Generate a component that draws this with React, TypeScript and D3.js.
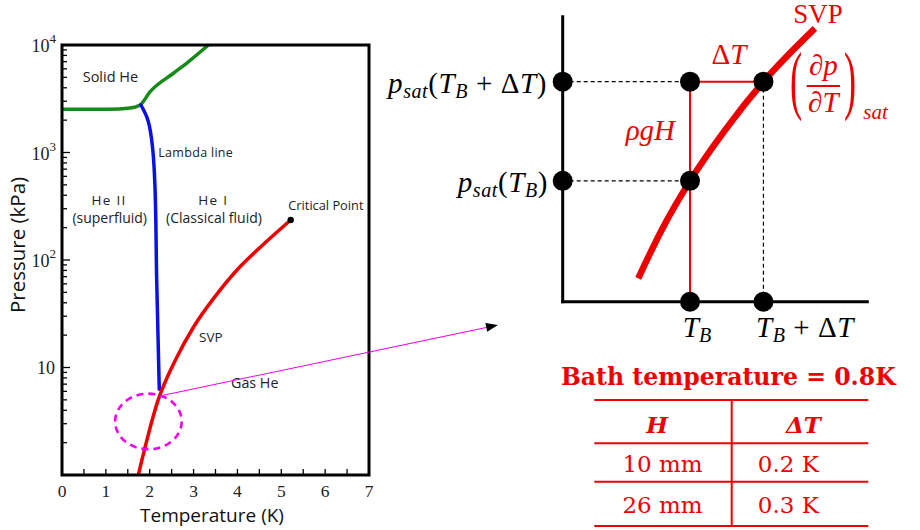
import React from "react";
import * as d3 from "d3";

// ---- He-4 phase diagram (temperature in K, pressure in kPa) ----
const meltT = [0, 0.8, 1.3, 1.55, 1.78, 2.01, 2.54, 2.84, 3.34];
const meltP = [2530, 2530, 2545, 2590, 2767, 3680, 5460, 6760, 10000];

const lambdaT = [1.8, 1.931, 2.045, 2.12, 2.159, 2.218];
const lambdaP = [2767, 2153, 1306, 481, 65.2, 6.27];

const svpT = [1.74, 2.219, 2.387, 2.615, 3.0, 3.5, 4.0, 4.515, 5.215];
const svpP = [1.0, 5.35, 7.9, 12.39, 23.8, 46.3, 81.6, 130.7, 235.6];

const criticalT = 5.215;
const criticalP = 235.6;

// zoom ring around the lambda / SVP junction
const ringT = 1.97;
const ringP = 3.15;
const arrowFromT = 2.31;
const arrowFromP = 5.52;

const tempTicks = [0, 1, 2, 3, 4, 5, 6, 7];
const tempMinorTicks = [0.5, 1, 1.5, 2, 2.5, 3, 3.5, 4, 4.5, 5, 5.5, 6, 6.5];
const pressureDecades = [10, 100, 1000, 10000];
const pressureExponents = ["", "2", "3", "4"];

// ---- schematic of SVP near the bath temperature (arbitrary units 0..100) ----
const sketchSvpT = [24.8, 32.5, 41.8, 53.3, 65.9, 82.8];
const sketchSvpP = [8.2, 25.2, 42.4, 60.2, 77.2, 95.9];
const sketchTB = 41.8;
const sketchTBdT = 65.9;
const sketchPsatTB = 42.4;
const sketchPsatTBdT = 77.2;

// ---- table ----
const bathLabel = "Bath temperature = 0.8K";
const tableHeights = ["10 mm", "26 mm"];
const tableDeltaT = ["0.2 K", "0.3 K"];

const RED = "#ee0000";
const GREEN = "#178a17";
const BLUE = "#0a10e8";
const MAGENTA = "#f000f0";
const SANS = "'Open Sans', 'DejaVu Sans', sans-serif";
const SERIF = "'Liberation Serif', 'Times New Roman', serif";
const WIDE_SERIF = "'DejaVu Serif', serif";

export default function App() {
  const x = d3.scaleLinear().domain([0, 7]).range([62, 369]);
  const y = d3.scaleLog().domain([1, 1e4]).range([475, 45]);

  const lineX = (ts: number[], ps: number[]) =>
    d3
      .line<number>()
      .x((_, i) => x(ts[i]))
      .y((_, i) => y(ps[i]))
      .curve(d3.curveMonotoneX)(ts) || "";
  const lineY = (ts: number[], ps: number[]) =>
    d3
      .line<number>()
      .x((_, i) => x(ts[i]))
      .y((_, i) => y(ps[i]))
      .curve(d3.curveMonotoneY)(ts) || "";

  const minorP: number[] = [];
  [1, 10, 100, 1000].forEach((d) => {
    for (let m = 2; m <= 9; m++) minorP.push(d * m);
  });

  const sx = d3.scaleLinear().domain([0, 100]).range([562.7, 867.3]);
  const sy = d3.scaleLinear().domain([0, 100]).range([301.7, 16.7]);
  const sketchPath =
    d3
      .line<number>()
      .x((_, i) => sx(sketchSvpT[i]))
      .y((_, i) => sy(sketchSvpP[i]))
      .curve(d3.curveMonotoneX)(sketchSvpT) || "";

  // pointer from the ring to the schematic
  const ax0 = x(arrowFromT);
  const ay0 = y(arrowFromP);
  const ax1 = 498;
  const ay1 = 325;
  const ang = Math.atan2(ay1 - ay0, ax1 - ax0);
  const headLen = 12;
  const headHalf = 4.5;
  const bx = ax1 - headLen * Math.cos(ang);
  const by = ay1 - headLen * Math.sin(ang);
  const head = [
    [ax1, ay1],
    [bx + headHalf * Math.sin(ang), by - headHalf * Math.cos(ang)],
    [bx - headHalf * Math.sin(ang), by + headHalf * Math.cos(ang)],
  ]
    .map((p) => p.join(","))
    .join(" ");

  const rowLines = [400, 443.3, 481.7, 526];
  const rowBaselines = [471.7, 513.3];
  const colMid = 731.7;

  const mathSize = 29;
  const subSize = 20;

  return (
    <svg
      width={920}
      height={530}
      style={{ position: "fixed", left: 0, top: 0, background: "#fff" }}
    >
      <rect x={0} y={0} width={920} height={530} fill="#fff" />
      <defs>
        <clipPath id="plotArea">
          <rect x={62} y={45} width={307} height={430} />
        </clipPath>
      </defs>

      {/* ---------- phase diagram ---------- */}
      <g clipPath="url(#plotArea)" fill="none" strokeLinecap="round" strokeLinejoin="round">
        <path d={lineX(meltT, meltP)} stroke={GREEN} strokeWidth={3.5} />
        <path d={lineY(lambdaT, lambdaP)} stroke={BLUE} strokeWidth={3.5} />
        <path d={lineX(svpT, svpP)} stroke={RED} strokeWidth={3.5} />
      </g>
      <circle cx={x(criticalT)} cy={y(criticalP)} r={3.2} fill="#000" />

      {/* ticks */}
      <g stroke="#000" strokeWidth={1.3}>
        {tempMinorTicks.map((t) => (
          <line key={"xt" + t} x1={x(t)} x2={x(t)} y1={475} y2={469} />
        ))}
        {minorP.map((p) => (
          <line key={"ym" + p} x1={62} x2={67} y1={y(p)} y2={y(p)} />
        ))}
        {pressureDecades.map((p) => (
          <line key={"yM" + p} x1={62} x2={70} y1={y(p)} y2={y(p)} />
        ))}
      </g>
      <rect x={62} y={45} width={307} height={430} fill="none" stroke="#000" strokeWidth={3} />

      {/* tick labels */}
      <g fontFamily={SERIF} fill="#222">
        {tempTicks.map((t) => (
          <text key={"xl" + t} x={x(t)} y={497} fontSize={17.5} textAnchor="middle">
            {t}
          </text>
        ))}
        {pressureDecades.map((p, i) =>
          pressureExponents[i] ? (
            <text key={"yl" + p} x={56} y={y(p) + 7} fontSize={18} textAnchor="end">
              10
              <tspan fontSize={13} dy={-9}>
                {pressureExponents[i]}
              </tspan>
            </text>
          ) : (
            <text key={"yl" + p} x={55} y={y(p) + 6} fontSize={18} textAnchor="end">
              10
            </text>
          )
        )}
      </g>

      {/* axis titles */}
      <text x={212} y={521.5} fontFamily={SANS} fontSize={19} textAnchor="middle" fill="#111">
        Temperature (K)
      </text>
      <text
        transform="translate(25,245) rotate(-90)"
        fontFamily={SANS}
        fontSize={20.5}
        textAnchor="middle"
        fill="#111"
      >
        Pressure (kPa)
      </text>

      {/* region labels */}
      <g fontFamily={SANS} fill="#222" style={{ whiteSpace: "pre" }}>
        <text x={82.7} y={81.5} fontSize={14.5}>Solid He</text>
        <text x={158.3} y={157} fontSize={12.5} letterSpacing={0.3}>Lambda line</text>
        <text x={109} y={205} fontSize={13.5} textAnchor="middle" letterSpacing={1.3}>He II</text>
        <text x={109.7} y={223} fontSize={14} textAnchor="middle">(superfluid)</text>
        <text x={213.3} y={205} fontSize={13.5} textAnchor="middle" letterSpacing={1.3}>He I</text>
        <text x={214} y={223} fontSize={14} textAnchor="middle">(Classical fluid)</text>
        <text x={288.3} y={210} fontSize={12.8}>Critical Point</text>
        <text x={199} y={341.7} fontSize={13.5}>SVP</text>
        <text x={231} y={388.3} fontSize={14.3}>Gas He</text>
      </g>

      {/* ring + pointer */}
      <ellipse
        cx={x(ringT)}
        cy={y(ringP)}
        rx={33.3}
        ry={27.8}
        fill="none"
        stroke={MAGENTA}
        strokeWidth={2.6}
        strokeDasharray="7 5"
      />
      <line x1={ax0} y1={ay0} x2={bx} y2={by} stroke={MAGENTA} strokeWidth={1.1} />
      <polygon points={head} fill="#000" />

      {/* ---------- SVP schematic ---------- */}
      <g stroke="#000" strokeWidth={1.2} strokeDasharray="4 3">
        <line x1={sx(0)} x2={sx(sketchTB)} y1={sy(sketchPsatTBdT)} y2={sy(sketchPsatTBdT)} />
        <line x1={sx(0)} x2={sx(sketchTB)} y1={sy(sketchPsatTB)} y2={sy(sketchPsatTB)} />
        <line x1={sx(sketchTBdT)} x2={sx(sketchTBdT)} y1={sy(sketchPsatTBdT)} y2={sy(0)} />
      </g>
      <g stroke={RED} strokeWidth={2}>
        <line x1={sx(sketchTB)} x2={sx(sketchTBdT)} y1={sy(sketchPsatTBdT)} y2={sy(sketchPsatTBdT)} />
        <line x1={sx(sketchTB)} x2={sx(sketchTB)} y1={sy(sketchPsatTBdT)} y2={sy(0)} />
      </g>
      <path d={sketchPath} fill="none" stroke={RED} strokeWidth={6.5} />
      <g stroke="#000" strokeWidth={3} strokeLinecap="square">
        <line x1={sx(0)} x2={sx(0)} y1={sy(100)} y2={sy(0)} />
        <line x1={sx(0)} x2={sx(100)} y1={sy(0)} y2={sy(0)} />
      </g>
      <g fill="#000">
        <circle cx={sx(0)} cy={sy(sketchPsatTBdT)} r={10} />
        <circle cx={sx(0)} cy={sy(sketchPsatTB)} r={10} />
        <circle cx={sx(sketchTB)} cy={sy(sketchPsatTBdT)} r={10} />
        <circle cx={sx(sketchTB)} cy={sy(sketchPsatTB)} r={10} />
        <circle cx={sx(sketchTB)} cy={sy(0)} r={10} />
        <circle cx={sx(sketchTBdT)} cy={sy(sketchPsatTBdT)} r={10} />
        <circle cx={sx(sketchTBdT)} cy={sy(0)} r={10} />
      </g>

      {/* schematic labels */}
      <g fontFamily={SERIF} fontSize={mathSize} fill="#000" style={{ whiteSpace: "pre" }}>
        <text x={547} y={93} textAnchor="end" letterSpacing={0.6}>
          <tspan fontStyle="italic">p</tspan>
          <tspan fontStyle="italic" fontSize={subSize} dy={5}>sat</tspan>
          <tspan dy={-5}>(</tspan>
          <tspan fontStyle="italic">T</tspan>
          <tspan fontStyle="italic" fontSize={subSize} dy={5}>B</tspan>
          <tspan dy={-5}> + Δ</tspan>
          <tspan fontStyle="italic">T</tspan>
          <tspan>)</tspan>
        </text>
        <text x={548} y={192} textAnchor="end" letterSpacing={0.6}>
          <tspan fontStyle="italic">p</tspan>
          <tspan fontStyle="italic" fontSize={subSize} dy={5}>sat</tspan>
          <tspan dy={-5}>(</tspan>
          <tspan fontStyle="italic">T</tspan>
          <tspan fontStyle="italic" fontSize={subSize} dy={5}>B</tspan>
          <tspan dy={-5}>)</tspan>
        </text>
        <text x={sx(sketchTB) + 7} y={337} textAnchor="middle">
          <tspan fontStyle="italic">T</tspan>
          <tspan fontStyle="italic" fontSize={subSize} dy={5}>B</tspan>
        </text>
        <text x={805} y={337} textAnchor="middle" letterSpacing={0.6}>
          <tspan fontStyle="italic">T</tspan>
          <tspan fontStyle="italic" fontSize={subSize} dy={5}>B</tspan>
          <tspan dy={-5}>  + Δ</tspan>
          <tspan fontStyle="italic">T</tspan>
        </text>
      </g>
      <g fontFamily={SERIF} fontSize={mathSize} fill={RED} style={{ whiteSpace: "pre" }}>
        <text x={729} y={64} textAnchor="middle">
          Δ<tspan fontStyle="italic">T</tspan>
        </text>
        <text x={675} y={140} textAnchor="end" fontStyle="italic">
          ρgH
        </text>
        <text x={818} y={22.7} textAnchor="middle" fontSize={27}>
          SVP
        </text>
        <text x={823.3} y={75} textAnchor="middle">
          ∂<tspan fontStyle="italic">p</tspan>
        </text>
        <text x={823.3} y={111.7} textAnchor="middle">
          ∂<tspan fontStyle="italic">T</tspan>
        </text>
        <text transform="translate(796,104.8) scale(1.3,2.72)" fontSize={28} textAnchor="middle">
          (
        </text>
        <text transform="translate(850,104.8) scale(1.3,2.72)" fontSize={28} textAnchor="middle">
          )
        </text>
        <text x={863.3} y={119.3} fontSize={21} fontStyle="italic">
          sat
        </text>
      </g>
      <line x1={806.7} x2={840} y1={86} y2={86} stroke={RED} strokeWidth={2} />

      {/* ---------- table ---------- */}
      <text
        x={728.3}
        y={385}
        textAnchor="middle"
        fontFamily={WIDE_SERIF}
        fontWeight="bold"
        fontSize={23.6}
        fill={RED}
      >
        {bathLabel}
      </text>
      <g stroke={RED} strokeWidth={2}>
        {rowLines.map((ry) => (
          <line key={"row" + ry} x1={594.3} x2={868.3} y1={ry} y2={ry} />
        ))}
        <line x1={colMid} x2={colMid} y1={rowLines[0]} y2={rowLines[rowLines.length - 1]} />
      </g>
      <g fontFamily={WIDE_SERIF} fill={RED} textAnchor="middle">
        <text x={657} y={433} fontSize={23} fontWeight="bold" fontStyle="italic">
          H
        </text>
        <text x={803.5} y={433} fontSize={23} fontWeight="bold" fontStyle="italic">
          ΔT
        </text>
        {tableHeights.map((h, i) => (
          <text key={"h" + i} x={662.5} y={rowBaselines[i]} fontSize={23}>
            {h}
          </text>
        ))}
        {tableDeltaT.map((d, i) => (
          <text key={"d" + i} x={788.3} y={rowBaselines[i]} fontSize={23}>
            {d}
          </text>
        ))}
      </g>
    </svg>
  );
}
